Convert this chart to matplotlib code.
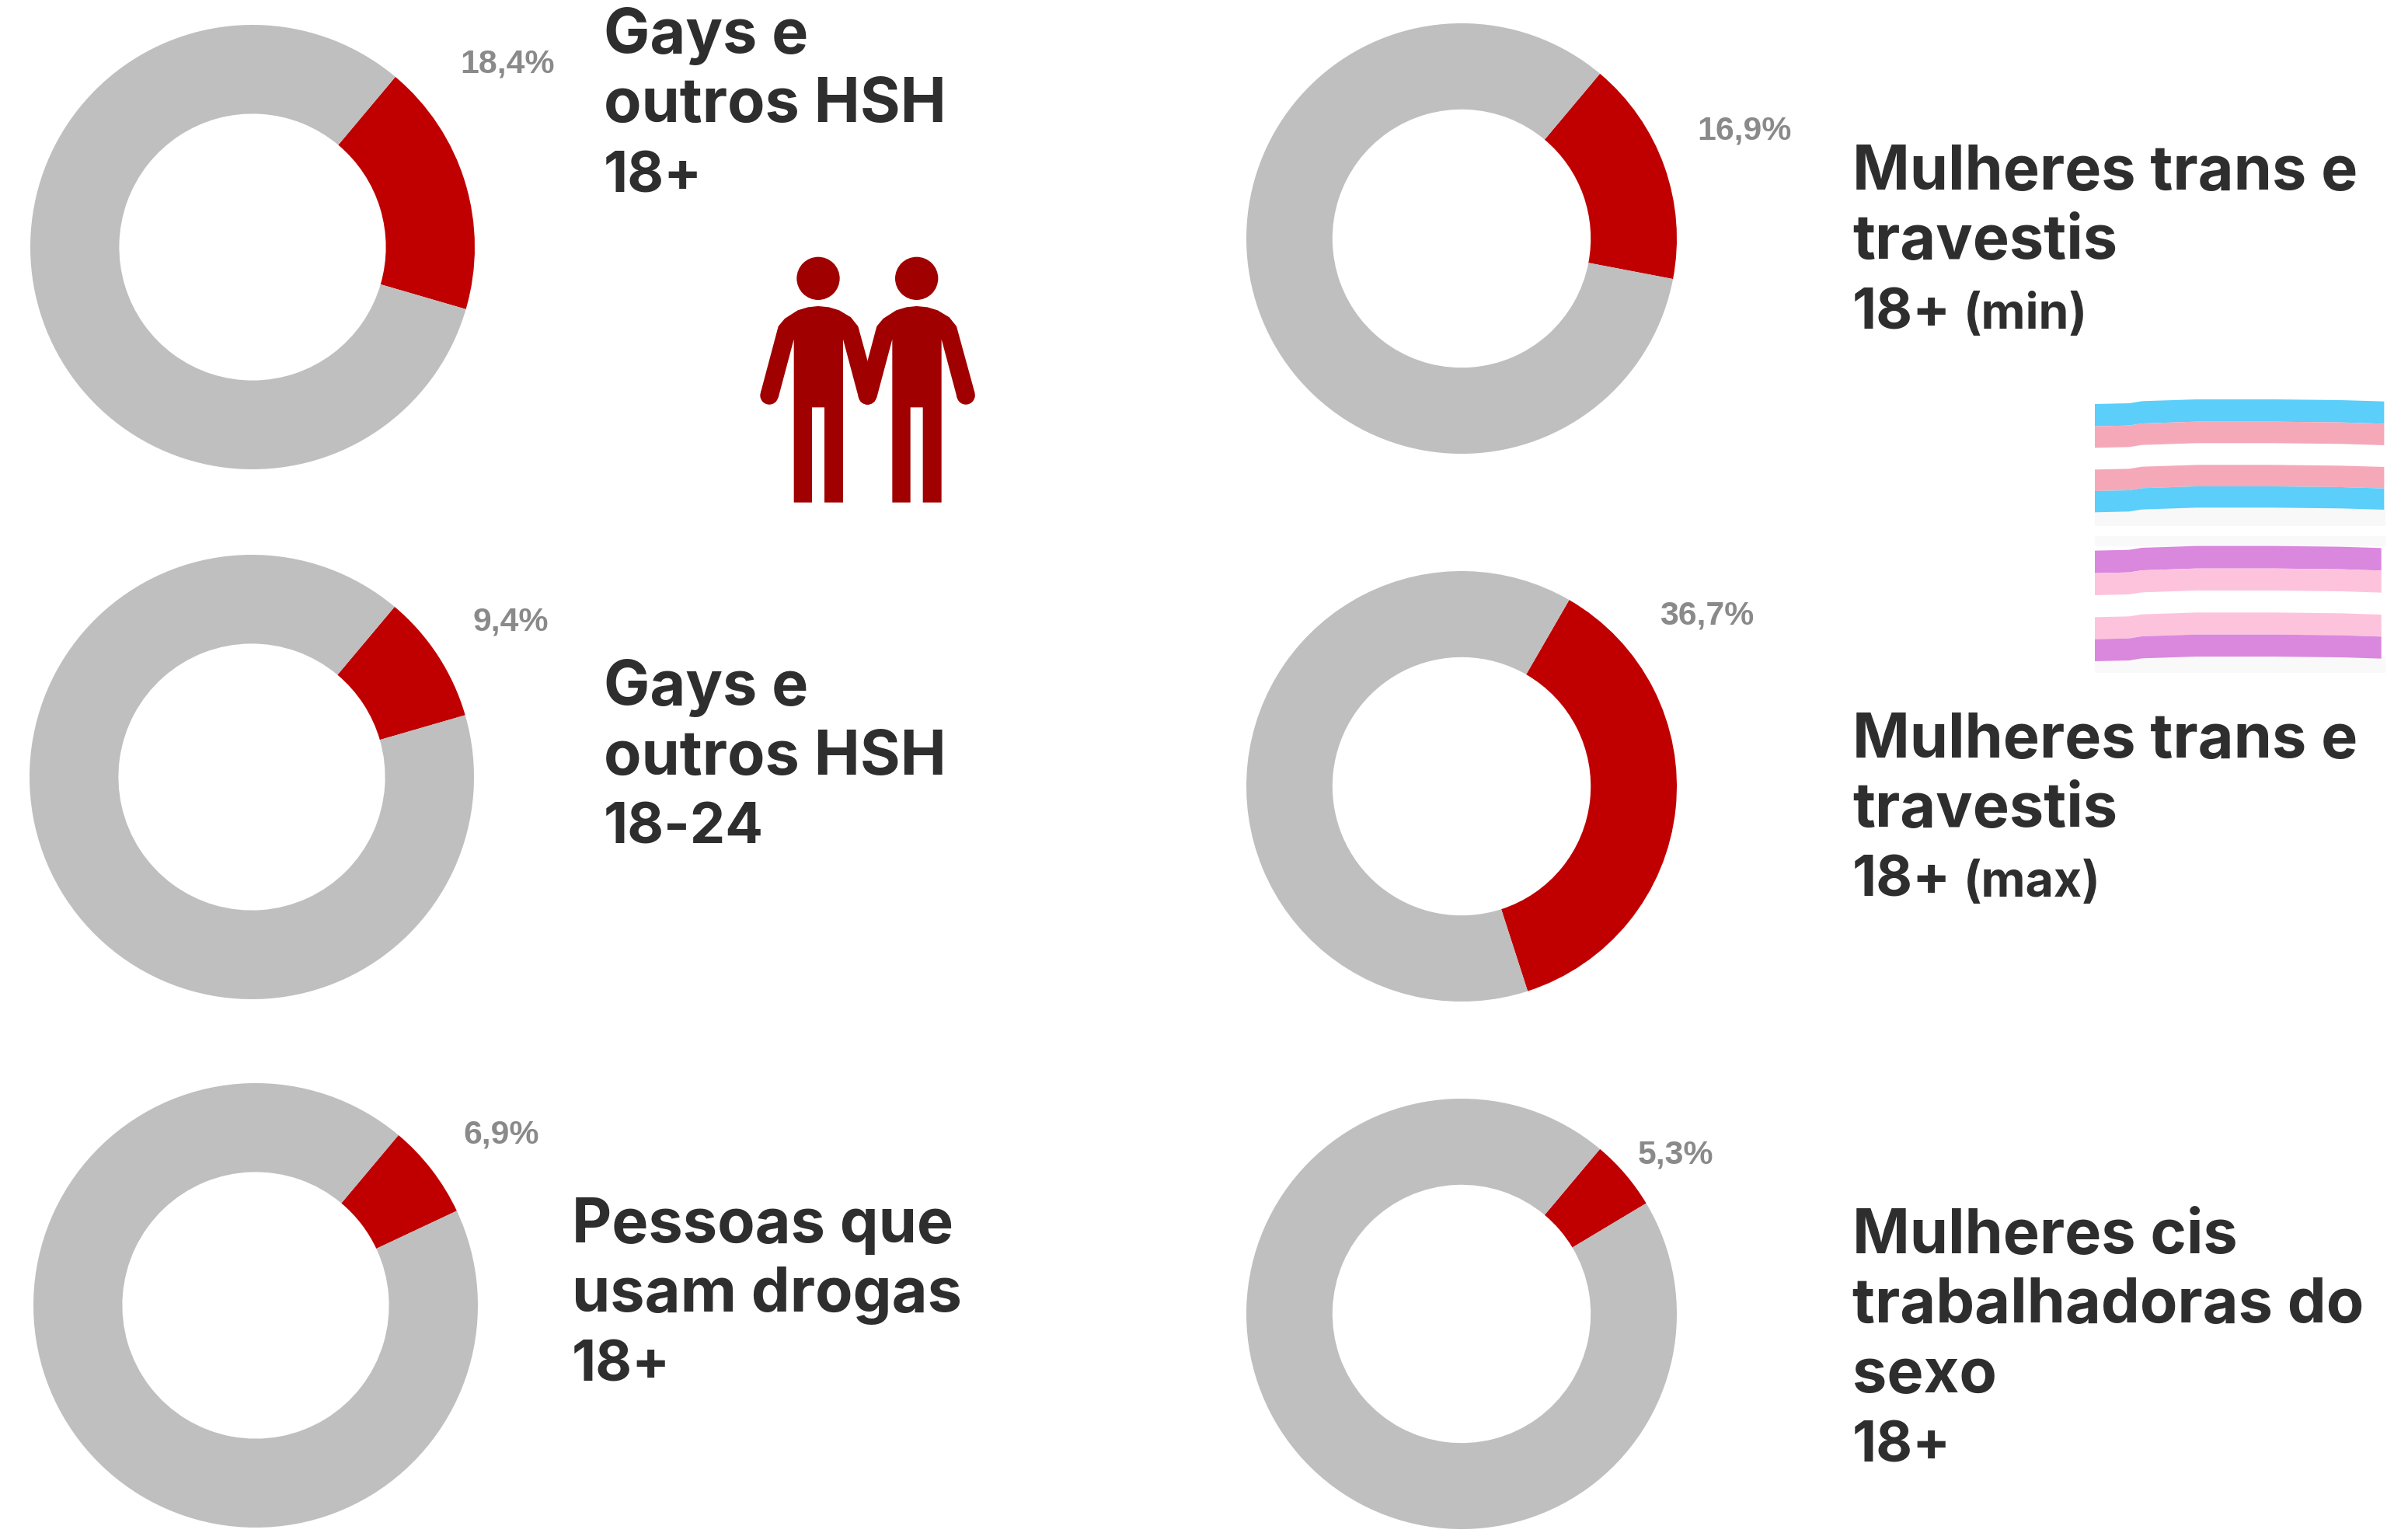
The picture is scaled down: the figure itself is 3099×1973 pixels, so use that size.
import matplotlib
matplotlib.use("Agg")
import matplotlib.pyplot as plt
from matplotlib.patches import Circle, Polygon, Rectangle

W, H = 3099, 1973
RED, GRAY = "#c00000", "#bfbfbf"
DARK = "#2e2e2e"
LABEL = "#8a8a8a"

# ---- data ----
groups = ["Gays e outros HSH 18+", "Gays e outros HSH 18-24", "Pessoas que usam drogas 18+",
          "Mulheres trans e travestis 18+ (min)", "Mulheres trans e travestis 18+ (max)",
          "Mulheres cis trabalhadoras do sexo 18+"]
values = [18.4, 9.4, 6.9, 16.9, 36.7, 5.3]
value_labels = ["18,4%", "9,4%", "6,9%", "16,9%", "36,7%", "5,3%"]

# ---- layout, in full-size pixels ----
centers = [(325, 318), (324, 1000), (329, 1680), (1881, 307), (1881, 1012), (1881, 1691)]
radii = [286, 286, 286, 277, 277, 277]
start_angles = [50, 50, 50, 50, 60, 50]
label_pos = [(592, 82), (608, 800), (596, 1460), (2184, 168), (2136, 792), (2108, 1487)]
text_blocks = [
    (777, [68, 157, 247], ["Gays e", "outros HSH", "18+"], None),
    (777, [907, 997, 1086], ["Gays e", "outros HSH", "18-24"], None),
    (736, [1599, 1688, 1778], ["Pessoas que", "usam drogas", "18+"], None),
    (2384, [244, 333, 423], ["Mulheres trans e", "travestis", "18+"], "(min)"),
    (2384, [975, 1064, 1154], ["Mulheres trans e", "travestis", "18+"], "(max)"),
    (2384, [1613, 1702, 1792, 1881], ["Mulheres cis", "trabalhadoras do", "sexo", "18+"], None),
]
TITLE_FONT = {"family": "Inter", "fontweight": "bold", "color": DARK}

fig = plt.figure(figsize=(W / 100, H / 100), dpi=100, facecolor="white")

for v, (cx, cy), r, sa in zip(values, centers, radii, start_angles):
    ax = fig.add_axes([(cx - r) / W, 1 - (cy + r) / H, 2 * r / W, 2 * r / H])
    ax.pie([v, 100 - v], colors=[RED, GRAY], startangle=sa, counterclock=False,
           radius=1, wedgeprops={"width": 0.4, "linewidth": 0})
    ax.set_xlim(-1, 1)
    ax.set_ylim(-1, 1)
    ax.set_aspect("equal")
    ax.axis("off")

# overlay in pixel coordinates for texts and decorations
ov = fig.add_axes([0, 0, 1, 1], zorder=5)
ov.set_xlim(0, W)
ov.set_ylim(H, 0)
ov.axis("off")

for s, (x, y) in zip(value_labels, label_pos):
    ov.text(x, y, s, family="Liberation Sans", fontweight="bold", fontsize=30.8,
            color=LABEL, va="center", ha="left")

for x, ys, lines, small in text_blocks:
    for y, line in zip(ys, lines):
        size = 52 if line[0].isdigit() else 57
        ov.text(x, y, line, va="baseline", ha="left", fontsize=size, **TITLE_FONT)
    if small:
        ov.text(x + 143, ys[-1], small, va="baseline", ha="left", fontsize=45, **TITLE_FONT)

# ---- couple icon ----
ICON = "#a00000"
def zx(v): return 950 + v / 3
def zy(v): return 300 + v / 3
body = [(155, 360), (180, 330), (230, 298), (270, 286), (309, 282), (350, 286), (390, 298),
        (435, 325), (463, 360), (533, 615), (533, 635), (499, 630), (465, 635), (405, 410),
        (405, 1040), (333, 1040), (333, 673), (285, 673), (285, 1040), (215, 1040), (215, 410),
        (155, 635), (120, 630), (87, 615)]
for off in (0, 380):
    ov.add_patch(Circle((zx(309 + off), zy(175)), 83 / 3, color=ICON, lw=0))
    ov.add_patch(Polygon([(zx(a + off), zy(b)) for a, b in body], closed=True, color=ICON, lw=0))
    ov.add_patch(Circle((zx(120 + off), zy(627)), 35 / 3, color=ICON, lw=0))
    ov.add_patch(Circle((zx(499 + off), zy(627)), 35 / 3, color=ICON, lw=0))

# ---- flags ----
def fx(v): return 2660 + v / 3
def fy(v): return 490 + v / 3
bend_x = [108, 240, 290, 500, 800, 1060, 1225]
bend_y = [18, 15, 7, 0, 0, 3, 8]
def stripe(y0, y1, color, xmax=1225):
    xs = [b if b < xmax else xmax for b in bend_x]
    top = [(fx(a), fy(y0 + d)) for a, d in zip(xs, bend_y)]
    bot = [(fx(a), fy(y1 + d)) for a, d in zip(xs, bend_y)][::-1]
    ov.add_patch(Polygon(top + bot, closed=True, color=color, lw=0))

ov.add_patch(Rectangle((fx(108), fy(490)), 1122 / 3, 70 / 3, color="#f8f8f8", lw=0))
ov.add_patch(Rectangle((fx(108), fy(600)), 1122 / 3, 40 / 3, color="#f9f9f9", lw=0))
ov.add_patch(Rectangle((fx(108), fy(1065)), 1122 / 3, 63 / 3, color="#f9f9f9", lw=0))
for y0, y1, c in [(72, 158, "#5bcefa"), (158, 241, "#f5a9b8"), (325, 408, "#f5a9b8"), (408, 490, "#5bcefa")]:
    stripe(y0, y1, c)
for y0, y1, c in [(638, 725, "#d988de"), (725, 810, "#fec3dc"), (895, 980, "#fec3dc"), (980, 1065, "#d988de")]:
    stripe(y0, y1, c, 1214)

fig.savefig("out.png", dpi=100, facecolor="white")
